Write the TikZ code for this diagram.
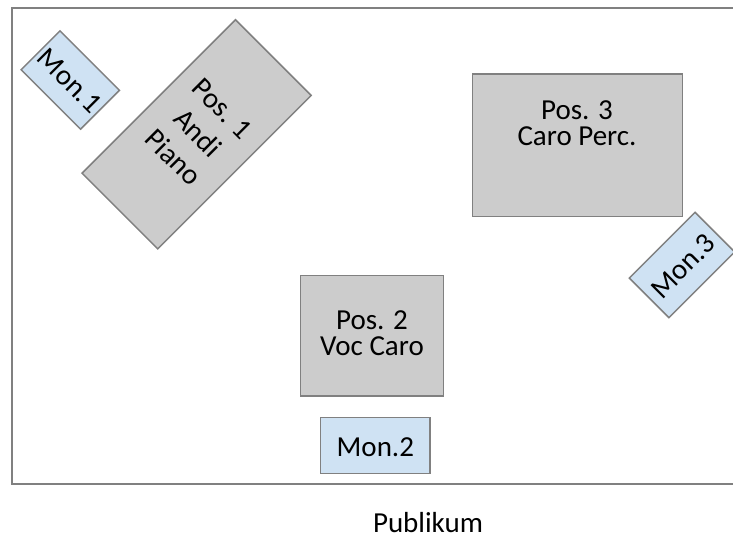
\documentclass[tikz,border=0pt]{standalone}
\usepackage{fontspec}
\setmainfont{Carlito}
\usetikzlibrary{calc}
\definecolor{boxgray}{RGB}{204,204,204}
\definecolor{monblue}{RGB}{207,226,243}
\definecolor{edgegray}{RGB}{128,128,128}
\tikzset{
 posbox/.style={draw=edgegray, line width=1.5pt, fill=boxgray, inner sep=0pt, outer sep=0pt},
 monbox/.style={draw=edgegray, line width=1.5pt, fill=monblue, inner sep=0pt, outer sep=0pt},
 lbl/.style={font=\fontsize{29}{26}\selectfont, inner sep=0pt, anchor=base},
 mlbl/.style={font=\fontsize{29}{26}\selectfont, inner sep=0pt, anchor=center, align=center},
}
\begin{document}
\begin{tikzpicture}[x=1pt,y=-1pt]
\useasboundingbox (0,0) rectangle (733,539);
\clip (0,0) rectangle (733,539);
\draw[edgegray, line width=2pt] (740,8) -- (12,8) -- (12,483.5) -- (740,483.5);

% Pos. 1 (rotated)
\begin{scope}[shift={(196.6,134.3)}, rotate=-45]
\node[posbox, minimum width=107pt, minimum height=217pt, transform shape] (p1) at (0,0) {};
\node[mlbl, font=\fontsize{29}{34.5}\selectfont, transform shape] (p1t) at (0,-1.5) {Pos. 1\\Andi\\Piano};
\end{scope}

% Mon. 1 (rotated)
\begin{scope}[shift={(70.3,80)}, rotate=-45]
\node[monbox, minimum width=84pt, minimum height=55pt, transform shape] (m1) at (0,0) {};
\node[lbl, transform shape] (m1t) at (0,10) {Mon.1};
\end{scope}

% Mon. 3 (rotated)
\begin{scope}[shift={(682,265)}, rotate=45]
\node[monbox, minimum width=93pt, minimum height=56pt, transform shape] (m3) at (0,0) {};
\node[lbl, transform shape] (m3t) at (0,11) {Mon.3};
\end{scope}

% Pos. 3
\node[posbox, minimum width=210pt, minimum height=142.7pt] (p3) at (577.7,145.35) {};
\node[mlbl] (p3t) at (577,123.6) {Pos. 3\\Caro Perc.};

% Pos. 2
\node[posbox, minimum width=142.6pt, minimum height=120.3pt] (p2) at (372,335.85) {};
\node[mlbl] (p2t) at (372,333.1) {Pos. 2\\Voc Caro};

% Mon. 2
\node[monbox, minimum width=109.3pt, minimum height=56pt] (m2) at (375.35,445.3) {};
\node[lbl] (m2t) at (375.35,456.7) {Mon.2};

% audience
\node[lbl] (pub) at (428,532.5) {Publikum};
\end{tikzpicture}
\end{document}
